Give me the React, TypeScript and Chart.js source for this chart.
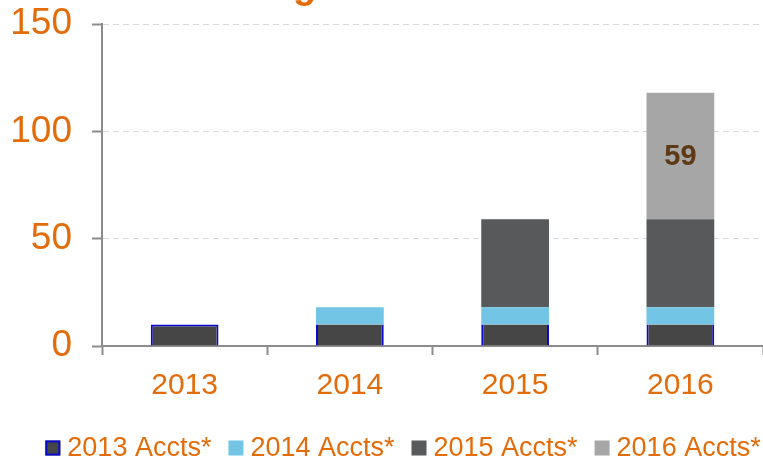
import React, { useEffect, useRef } from 'react';
import { Chart, registerables } from 'chart.js';

Chart.register(...registerables);

const categories = ['2013', '2014', '2015', '2016'];
const seriesLabels = ['2013 Accts*', '2014 Accts*', '2015 Accts*', '2016 Accts*'];
const accts2013 = [10, 10, 10, 10];
const accts2014 = [0, 8, 8, 8];
const accts2015 = [0, 0, 41, 41];
const accts2016 = [0, 0, 0, 59];
const yMin = 0;
const yMax = 150;
const yStep = 50;
const labelledSeriesIndex = 3;
const titleFragment = 'g';

const ORANGE = '#E36C0A';
const FONT = "'Liberation Sans', Arial, sans-serif";
const AXIS_GRAY = '#8C8C8C';
const GRID_GRAY = '#D9D9D9';
const BLUE_EDGE = '#0A0ACF';

const colors = ['#464646', '#72C5E5', '#57595B', '#A5A6A5'];

const valueLabelPlugin = {
  id: 'valueLabel',
  afterDatasetsDraw(chart: any) {
    const ctx = chart.ctx;
    const meta = chart.getDatasetMeta(labelledSeriesIndex);
    const data = chart.data.datasets[labelledSeriesIndex].data;
    ctx.save();
    ctx.font = `bold 29px ${FONT}`;
    ctx.fillStyle = '#5E3915';
    ctx.textAlign = 'center';
    ctx.textBaseline = 'middle';
    meta.data.forEach((el: any, i: number) => {
      const v = data[i];
      if (!v) return;
      const p = el.getProps(['x', 'y', 'base'], true);
      ctx.fillText(String(v), p.x, (p.y + p.base) / 2 + 1);
    });
    ctx.restore();
  },
};

const legendPlugin = {
  id: 'customLegend',
  afterDraw(chart: any) {
    const ctx = chart.ctx;
    ctx.save();
    ctx.font = `27px ${FONT}`;
    const box = 15;
    const gap = 7;
    const spacing = 17;
    const items = chart.data.datasets.map((ds: any, i: number) => ({
      ds,
      i,
      w: ctx.measureText(ds.label).width,
    }));
    const total =
      items.reduce((s: number, it: any) => s + box + gap + it.w, 0) + spacing * (items.length - 1);
    let x = 403 - total / 2;
    const cy = 448;
    items.forEach((it: any) => {
      ctx.fillStyle = it.ds.backgroundColor;
      ctx.fillRect(x, cy - box / 2, box, box);
      if (it.i === 0) {
        ctx.strokeStyle = BLUE_EDGE;
        ctx.lineWidth = 2;
        ctx.strokeRect(x + 1, cy - box / 2 + 1, box - 2, box - 2);
      }
      ctx.fillStyle = ORANGE;
      ctx.textAlign = 'left';
      ctx.textBaseline = 'middle';
      ctx.fillText(it.ds.label, x + box + gap, cy + 1);
      x += box + gap + it.w + spacing;
    });
    ctx.restore();
  },
};

const titlePlugin = {
  id: 'titleFragment',
  afterDraw(chart: any) {
    const ctx = chart.ctx;
    ctx.save();
    ctx.font = `bold 38px ${FONT}`;
    ctx.fillStyle = ORANGE;
    ctx.textAlign = 'left';
    ctx.textBaseline = 'alphabetic';
    ctx.fillText(titleFragment, 293, -2);
    ctx.restore();
  },
};

export default function App() {
  const ref = useRef<HTMLCanvasElement | null>(null);

  useEffect(() => {
    document.body.style.margin = '0';
    if (!ref.current) return;
    const seriesData = [accts2013, accts2014, accts2015, accts2016];
    const chart = new Chart(ref.current, {
      type: 'bar',
      data: {
        labels: categories,
        datasets: seriesData.map((d, i) => ({
          label: seriesLabels[i],
          data: d,
          backgroundColor: colors[i],
          borderColor: i === 0 ? BLUE_EDGE : 'rgba(0,0,0,0)',
          borderWidth:
            i === 0
              ? (c: any) => ({ left: 2, right: 2, top: accts2014[c.dataIndex] ? 0 : 2, bottom: 0 })
              : 0,
          borderSkipped: 'bottom',
          barPercentage: 0.41,
          categoryPercentage: 1,
        })),
      },
      options: {
        responsive: false,
        maintainAspectRatio: false,
        animation: false,
        devicePixelRatio: 1,
        layout: { padding: { left: 10, top: 24, right: 0, bottom: 43 } },
        plugins: {
          legend: { display: false },
          title: { display: false },
          tooltip: { enabled: false },
        },
        scales: {
          x: {
            stacked: true,
            grid: {
              display: true,
              drawOnChartArea: false,
              drawTicks: true,
              tickLength: 9,
              tickColor: AXIS_GRAY,
              tickWidth: 2,
              offset: true,
            },
            border: { display: true, color: AXIS_GRAY, width: 2 },
            ticks: {
              color: ORANGE,
              font: { family: FONT, size: 30 },
              padding: 13,
            },
          },
          y: {
            stacked: true,
            min: yMin,
            max: yMax,
            afterFit: (scale: any) => {
              scale.width = 92;
              scale.paddingTop = 0;
              scale.paddingBottom = 0;
            },
            ticks: {
              stepSize: yStep,
              color: ORANGE,
              font: { family: FONT, size: 37 },
              padding: 20,
            },
            grid: {
              color: GRID_GRAY,
              lineWidth: 1,
              tickColor: AXIS_GRAY,
              tickLength: 10,
              tickWidth: 2,
            },
            border: { display: true, color: AXIS_GRAY, width: 2, dash: [6, 4] },
          },
        },
      },
      plugins: [valueLabelPlugin, legendPlugin, titlePlugin],
    } as any);
    return () => chart.destroy();
  }, []);

  return (
    <div style={{ position: 'absolute', left: 0, top: 0, width: 763, height: 460, background: '#fff' }}>
      <canvas ref={ref} width={763} height={460} style={{ display: 'block' }} />
    </div>
  );
}
